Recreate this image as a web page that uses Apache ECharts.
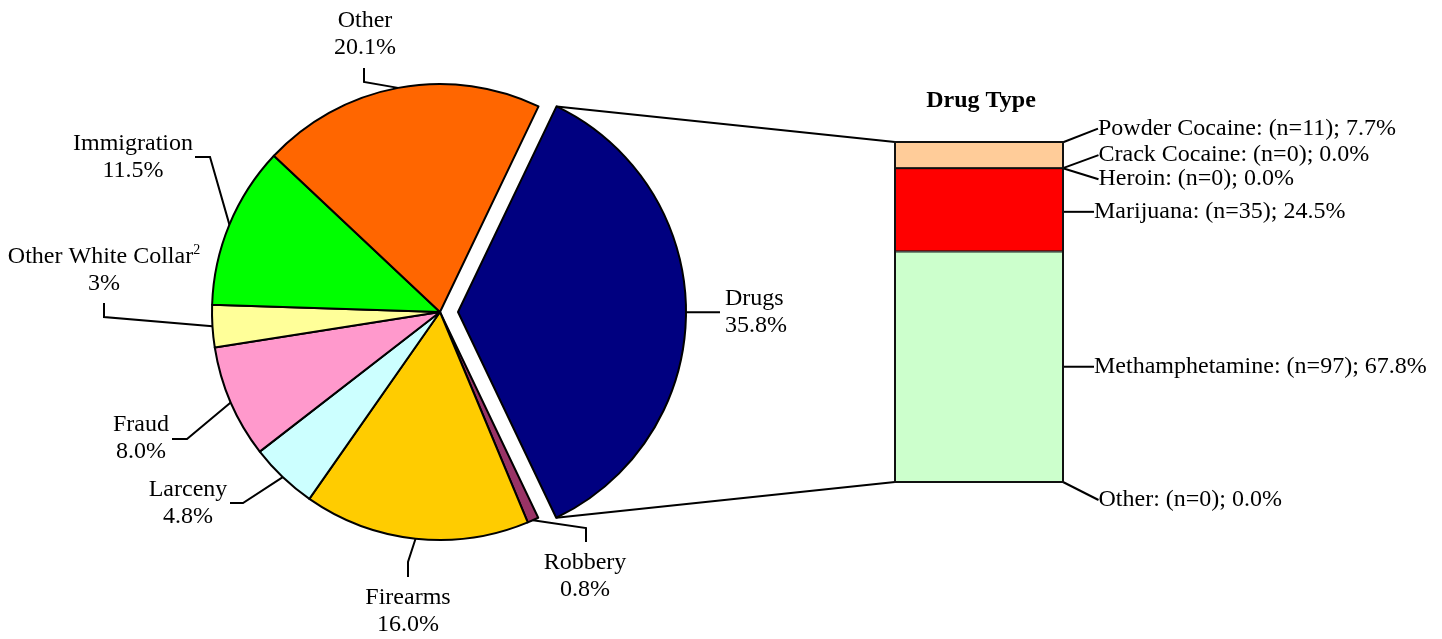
<!DOCTYPE html>
<html>
<head>
<meta charset="utf-8">
<script src="https://cdn.jsdelivr.net/npm/echarts@6/dist/echarts.min.js"></script>
<style>
html,body{margin:0;padding:0;background:#ffffff;}
#chart{width:1442px;height:639px;}
</style>
</head>
<body>
<div id="chart"></div>
<script>
// ---------------- data ----------------
const offenseNames = ['Drugs', 'Robbery', 'Firearms', 'Larceny', 'Fraud', 'Other White Collar', 'Immigration', 'Other'];
const offensePct = [35.8, 0.8, 16.0, 4.8, 8.0, 3, 11.5, 20.1];
const offensePctLabels = ['35.8%', '0.8%', '16.0%', '4.8%', '8.0%', '3%', '11.5%', '20.1%'];
const offenseFootnotes = ['', '', '', '', '', '2', '', ''];

const drugTypes = ['Powder Cocaine', 'Crack Cocaine', 'Heroin', 'Marijuana', 'Methamphetamine', 'Other'];
const drugCounts = [11, 0, 0, 35, 97, 0];
const drugPct = [7.7, 0.0, 0.0, 24.5, 67.8, 0.0];
const barTitle = 'Drug Type';

// ---------------- styles / layout ----------------
const FONT = 'Liberation Serif';
const offenseColors = ['#000080', '#993366', '#FFCC00', '#CCFFFF', '#FF99CC', '#FFFF99', '#00FF00', '#FF6600'];
const drugColors = ['#FFCC99', '#993366', '#FFFF99', '#FF0000', '#CCFFCC', '#CCFFFF'];

const PIE_CX = 440, PIE_CY = 312, PIE_R = 228, PIE_START = 64.4, SEL_OFFSET = 18;
const BAR_GRID = {left: 895, top: 142, width: 168, height: 340};

// label placement for pie slices (text centre, elbow, end of leader); Drugs uses default layout
const pieLabelSpots = [
  null,
  {text: [585, 576], elbow: [586, 528], end: [586, 542]},
  {text: [408, 611], elbow: [408, 562], end: [408, 577]},
  {text: [188, 503], elbow: [243, 503], end: [230, 503]},
  {text: [141, 438], elbow: [187, 439], end: [172, 439]},
  {text: [104, 270], elbow: [104, 317], end: [104, 303]},
  {text: [133, 157], elbow: [210, 157], end: [195, 157]},
  {text: [365, 34], elbow: [364, 82], end: [364, 68]}
];
// vertical shift of bar labels relative to segment middle
const barLabelDy = [-26.5, -13, 11, 2, 0, 18];

const totalOffense = offensePct.reduce((a, b) => a + b, 0);
function rimPoint(i) {
  let a = PIE_START;
  for (let j = 0; j < i; j++) a -= offensePct[j] / totalOffense * 360;
  a -= offensePct[i] / totalOffense * 180;
  const r = a * Math.PI / 180;
  return [PIE_CX + PIE_R * Math.cos(r), PIE_CY - PIE_R * Math.sin(r)];
}

const chart = echarts.init(document.getElementById('chart'), null, {renderer: 'canvas'});

const pieSeries = {
  type: 'pie',
  center: [PIE_CX, PIE_CY],
  radius: PIE_R,
  startAngle: PIE_START,
  clockwise: true,
  avoidLabelOverlap: false,
  selectedMode: 'single',
  selectedOffset: SEL_OFFSET,
  animation: false,
  emphasis: {disabled: true},
  itemStyle: {borderColor: '#000', borderWidth: 2},
  select: {itemStyle: {borderColor: '#000', borderWidth: 2}},
  label: {
    show: true,
    position: 'outside',
    color: '#000',
    fontFamily: FONT,
    fontSize: 24,
    lineHeight: 27,
    formatter: function (p) {
      const i = p.dataIndex;
      let s = '{n|' + offenseNames[i] + '}';
      if (offenseFootnotes[i]) s += '{s|' + offenseFootnotes[i] + '}';
      return s + '\n{n|' + offensePctLabels[i] + '}';
    },
    rich: {
      n: {fontFamily: FONT, fontSize: 24, lineHeight: 27, color: '#000'},
      s: {fontFamily: FONT, fontSize: 14, lineHeight: 16, verticalAlign: 'top', color: '#000'}
    }
  },
  labelLine: {show: true, length: 10, length2: 24, smooth: false, lineStyle: {color: '#000', width: 2}},
  labelLayout: function (p) {
    const spot = pieLabelSpots[p.dataIndex];
    if (!spot) return;
    const pts = p.labelLinePoints;
    const start = pts && pts[0] ? [pts[0][0], pts[0][1]] : rimPoint(p.dataIndex);
    return {
      x: spot.text[0], y: spot.text[1], align: 'center', verticalAlign: 'middle',
      labelLinePoints: [start, spot.elbow.slice(), spot.end.slice()]
    };
  },
  data: offenseNames.map((n, i) => ({
    name: n, value: offensePct[i], selected: i === 0,
    itemStyle: {color: offenseColors[i]}
  }))
};

// bars stack from the bottom: reverse order
const barSeries = [];
for (let k = drugTypes.length - 1; k >= 0; k--) {
  const dy = barLabelDy[k];
  const flat = Math.abs(dy) < 5;
  barSeries.push({
    type: 'bar',
    name: drugTypes[k],
    stack: 'drugs',
    barWidth: '100%',
    animation: false,
    emphasis: {disabled: true},
    itemStyle: {color: drugColors[k], borderColor: '#111', borderWidth: 1},
    label: {
      show: true, position: 'right', color: '#000', fontFamily: FONT, fontSize: 24,
      formatter: drugTypes[k] + ': (n=' + drugCounts[k] + '); ' + drugPct[k].toFixed(1) + '%'
    },
    labelLine: {show: true, lineStyle: {color: '#000', width: 2}},
    labelLayout: function (p) {
      const r = p.rect;
      const sx = r.x + r.width;
      const sy = r.y + r.height / 2;
      const ty = sy + dy;
      if (flat) {
        return {x: sx + 31, y: ty, align: 'left', verticalAlign: 'middle',
          labelLinePoints: [[sx, ty], [sx + 14, ty], [sx + 28, ty]]};
      }
      return {x: sx + 35, y: ty, align: 'left', verticalAlign: 'middle',
        labelLinePoints: [[sx, sy], [sx + 23, ty], [sx + 33, ty]]};
    },
    data: [drugPct[k]]
  });
}

const option = {
  backgroundColor: '#ffffff',
  animation: false,
  grid: Object.assign({containLabel: false}, BAR_GRID),
  xAxis: {type: 'category', data: [barTitle], show: false, boundaryGap: true},
  yAxis: {type: 'value', min: 0, max: 100, show: false},
  series: [pieSeries].concat(barSeries)
};
chart.setOption(option);

function drawExtras() {
  const a0 = PIE_START * Math.PI / 180;
  const a1 = (PIE_START - offensePct[0] / totalOffense * 360) * Math.PI / 180;
  const mid = (a0 + a1) / 2;
  const ecx = PIE_CX + SEL_OFFSET * Math.cos(mid);
  const ecy = PIE_CY - SEL_OFFSET * Math.sin(mid);
  const pTop = [ecx + PIE_R * Math.cos(a0), ecy - PIE_R * Math.sin(a0)];
  const pBot = [ecx + PIE_R * Math.cos(a1), ecy - PIE_R * Math.sin(a1)];
  const stackTotal = drugPct.reduce((a, b) => a + b, 0);
  const topC = chart.convertToPixel({xAxisIndex: 0, yAxisIndex: 0}, [0, stackTotal]);
  const botC = chart.convertToPixel({xAxisIndex: 0, yAxisIndex: 0}, [0, 0]);
  const left = topC[0] - BAR_GRID.width / 2;
  chart.setOption({
    graphic: [
      {type: 'line', silent: true, z: 1, shape: {x1: pTop[0], y1: pTop[1], x2: left, y2: topC[1]}, style: {stroke: '#000', lineWidth: 2}},
      {type: 'line', silent: true, z: 1, shape: {x1: pBot[0], y1: pBot[1], x2: left, y2: botC[1]}, style: {stroke: '#000', lineWidth: 2}},
      {type: 'rect', silent: true, z: 10, shape: {x: left, y: topC[1], width: BAR_GRID.width, height: botC[1] - topC[1]},
        style: {fill: 'none', stroke: '#111', lineWidth: 2}},
      {type: 'text', silent: true, x: topC[0] + 2, y: 101,
        style: {text: barTitle, fontFamily: FONT, fontSize: 24, fontWeight: 'bold', fill: '#000', align: 'center', verticalAlign: 'middle'}}
    ]
  });
}
drawExtras();
</script>
</body>
</html>
